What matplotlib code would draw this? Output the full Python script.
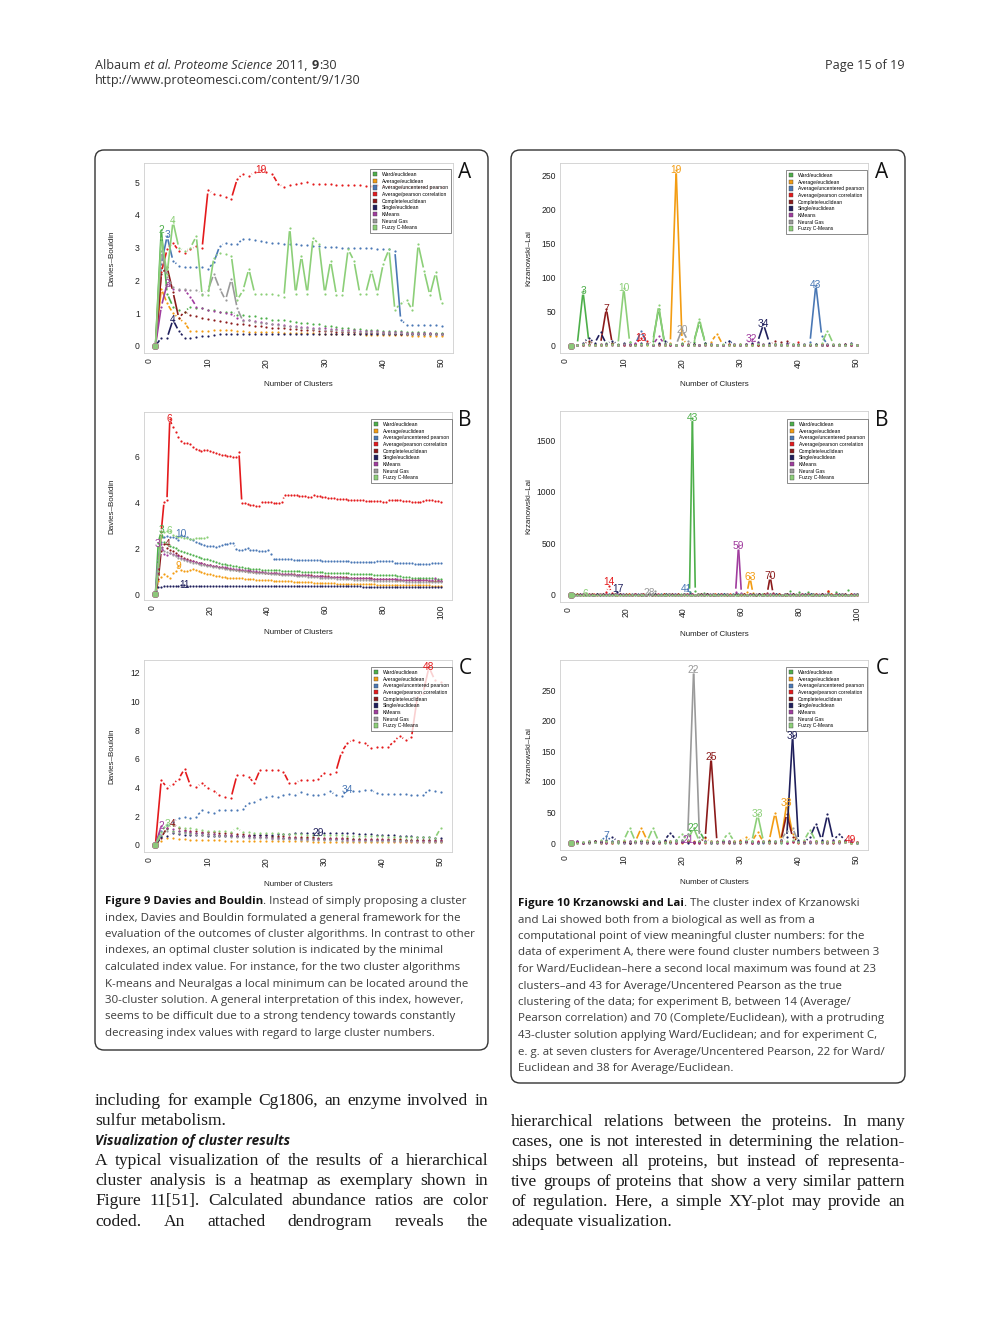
import numpy as np
import matplotlib
matplotlib.use('Agg')
import matplotlib.pyplot as plt
from matplotlib.patches import FancyBboxPatch, Patch, Rectangle

plt.rcParams['font.family'] = ['Liberation Sans', 'DejaVu Sans']

methods = ['Ward/euclidean', 'Average/euclidean', 'Average/uncentered pearson',
           'Average/pearson correlation', 'Complete/euclidean', 'Single/euclidean',
           'KMeans', 'Neural Gas', 'Fuzzy C-Means']
colors = ['#4DAF4A', '#F39C12', '#4A78B5', '#E41A1C', '#8B1A1A', '#1F1F5C',
          '#A03C9E', '#9A9A9A', '#8CCF78']

# ---- Figure 9A : Davies-Bouldin, experiment A (k = 1..50)
dbA_ward = [0, 3.55, 1.6, 1.2, 1.1, 1.05, 1.2, 1.15, 1.15, 1.1,
            1.1, 1.05, 1.05, 1.05, 0.95, 0.95, 0.9, 0.9, 0.85, 0.85,
            0.8, 0.8, 0.78, 0.75, 0.72, 0.7, 0.7, 0.68, 0.66, 0.62,
            0.6, 0.58, 0.56, 0.55, 0.53, 0.52, 0.5, 0.5, 0.48, 0.47,
            0.46, 0.45, 0.45, 0.44, 0.43, 0.42, 0.42, 0.41, 0.4, 0.4]
dbA_ave = [0, 1.75, 1.3, 1.0, 0.85, 0.7, 0.45, 0.45, 0.45, 0.45,
           0.5, 0.5, 0.5, 0.48, 0.45, 0.45, 0.44, 0.44, 0.43, 0.43,
           0.42, 0.42, 0.41, 0.41, 0.4, 0.4, 0.39, 0.39, 0.38, 0.38,
           0.37, 0.37, 0.36, 0.36, 0.35, 0.35, 0.34, 0.34, 0.33, 0.33,
           0.33, 0.32, 0.32, 0.32, 0.31, 0.31, 0.31, 0.3, 0.3, 0.3]
dbA_aup = [0, 2.5, 3.35, 2.6, 2.45, 2.42, 2.42, 2.42, 2.4, 2.35,
           2.55, 3.05, 3.15, 3.12, 3.1, 3.28, 3.25, 3.22, 3.2, 3.18,
           3.15, 3.15, 3.12, 3.12, 3.1, 3.08, 3.08, 3.05, 3.05, 3.03,
           3.02, 3.02, 3.0, 3.0, 3.0, 3.0, 2.98, 2.98, 2.97, 2.97,
           2.95, 2.9, 0.8, 0.65, 0.65, 0.64, 0.64, 0.63, 0.63, 0.62]
dbA_apc = [0, 2.25, 2.95, 3.15, 2.9, 2.85, 2.95, 3.05, 3.0, 4.75,
           4.65, 4.6, 4.55, 4.5, 5.1, 5.25, 5.2, 5.3, 5.37, 5.3,
           5.25, 4.95, 4.85, 4.9, 4.95, 4.97, 5.0, 4.95, 4.93, 4.93,
           4.95, 4.92, 4.9, 4.9, 4.9, 4.9, 4.88, 4.88, 4.9, 4.88,
           4.87, 4.87, 4.86, 4.86, 4.85, 4.85, 4.85, 4.85, 4.84, 4.84]
dbA_comp = [0, 2.2, 2.4, 1.65, 0.85, 1.05, 0.95, 0.9, 0.85, 0.82,
            0.8, 0.75, 0.72, 0.7, 0.68, 0.66, 0.64, 0.62, 0.6, 0.58,
            0.56, 0.55, 0.54, 0.53, 0.52, 0.5, 0.49, 0.48, 0.47, 0.46,
            0.45, 0.44, 0.43, 0.43, 0.42, 0.41, 0.41, 0.4, 0.4, 0.39,
            0.39, 0.38, 0.38, 0.37, 0.37, 0.36, 0.36, 0.36, 0.35, 0.35]
dbA_sing = [0, 0.25, 0.25, 0.8, 0.45, 0.25, 0.25, 0.28, 0.3, 0.3,
            0.33, 0.35, 0.35, 0.36, 0.38, 0.38, 0.38, 0.38, 0.38, 0.38,
            0.38, 0.38, 0.38, 0.38, 0.37, 0.37, 0.37, 0.37, 0.37, 0.37,
            0.37, 0.37, 0.36, 0.36, 0.36, 0.36, 0.36, 0.36, 0.36, 0.36,
            0.36, 0.36, 0.35, 0.35, 0.35, 0.35, 0.35, 0.35, 0.35, 0.35]
dbA_km = [0, 1.2, 1.9, 1.75, 1.72, 1.7, 1.5, 1.2, 1.15, 1.1,
          1.08, 1.05, 1.0, 0.98, 0.85, 0.8, 0.78, 0.75, 0.72, 0.7,
          0.68, 0.66, 0.64, 0.62, 0.6, 0.58, 0.57, 0.56, 0.55, 0.54,
          0.52, 0.51, 0.5, 0.49, 0.48, 0.47, 0.46, 0.45, 0.45, 0.44,
          0.43, 0.42, 0.42, 0.41, 0.4, 0.4, 0.39, 0.39, 0.38, 0.38]
dbA_ng = [0, 2.9, 2.1, 1.8, 1.75, 1.75, 1.7, 1.7, 1.6, 1.7,
          2.2, 1.75, 1.4, 2.05, 1.15, 0.75, 0.78, 0.72, 0.7, 0.7,
          0.68, 0.65, 0.62, 0.6, 0.58, 0.56, 0.55, 0.53, 0.52, 0.5,
          0.49, 0.48, 0.47, 0.46, 0.45, 0.44, 0.43, 0.42, 0.42, 0.41,
          0.4, 0.4, 0.39, 0.38, 0.38, 0.37, 0.37, 0.36, 0.36, 0.35]
dbA_fcm = [0, 3.3, 2.2, 3.8, 3.0, 2.9, 3.0, 3.35, 1.55, 1.55,
           2.7, 2.85, 2.8, 2.75, 1.4, 1.7, 2.35, 1.6, 1.6, 1.6,
           1.6, 1.55, 1.5, 3.6, 1.6, 2.75, 1.6, 3.3, 3.1, 1.6,
           2.6, 1.55, 1.55, 2.95, 2.6, 1.6, 1.6, 2.3, 1.6, 2.5,
           2.95, 1.1, 1.3, 1.4, 1.1, 3.1, 2.3, 1.55, 2.25, 1.3]
# (series index, cluster number, value) of the numbered optima
dbA_marks = [(0, 2, 3.55), (2, 3, 3.4), (8, 4, 3.8), (6, 3, 1.9), (5, 4, 0.8), (3, 19, 5.37)]

# ---- Figure 9B : Davies-Bouldin, experiment B (k = 1..100)
dbB_ward = [0, 2.25, 2.75, 2.3, 2.2, 2.12, 2.05, 2.0, 1.95, 1.9,
            1.85, 1.8, 1.75, 1.7, 1.66, 1.62, 1.58, 1.55, 1.52, 1.48,
            1.44, 1.4, 1.37, 1.34, 1.32, 1.3, 1.28, 1.25, 1.23, 1.2,
            1.18, 1.16, 1.14, 1.12, 1.11, 1.1, 1.09, 1.08, 1.07, 1.06,
            1.05, 1.05, 1.04, 1.04, 1.03, 1.03, 1.02, 1.02, 1.01, 1.0,
            1.0, 0.99, 0.99, 0.98, 0.98, 0.97, 0.97, 0.96, 0.96, 0.95,
            0.95, 0.94, 0.94, 0.93, 0.93, 0.92, 0.92, 0.91, 0.9, 0.9,
            0.89, 0.89, 0.88, 0.88, 0.87, 0.87, 0.86, 0.86, 0.86, 0.85,
            0.85, 0.84, 0.84, 0.83, 0.8, 0.78, 0.76, 0.75, 0.74, 0.73,
            0.72, 0.72, 0.71, 0.7, 0.7, 0.69, 0.69, 0.68, 0.68, 0.67]
dbB_ave = [0, 0.6, 0.75, 0.9, 0.8, 0.7, 0.92, 1.0, 1.25, 1.05,
           1.0, 1.02, 1.06, 1.1, 1.05, 1.0, 0.97, 0.94, 0.9, 0.87,
           0.84, 0.81, 0.79, 0.77, 0.75, 0.73, 0.7, 0.72, 0.72, 0.7,
           0.69, 0.68, 0.67, 0.66, 0.65, 0.64, 0.64, 0.63, 0.62, 0.62,
           0.61, 0.6, 0.59, 0.58, 0.58, 0.57, 0.56, 0.56, 0.55, 0.55,
           0.54, 0.53, 0.53, 0.52, 0.52, 0.51, 0.5, 0.5, 0.5, 0.49,
           0.49, 0.48, 0.48, 0.47, 0.47, 0.46, 0.46, 0.46, 0.45, 0.45,
           0.45, 0.44, 0.44, 0.44, 0.43, 0.43, 0.43, 0.42, 0.42, 0.42,
           0.42, 0.41, 0.41, 0.41, 0.41, 0.4, 0.4, 0.4, 0.4, 0.4,
           0.4, 0.39, 0.39, 0.39, 0.39, 0.39, 0.38, 0.38, 0.38, 0.38]
dbB_aup = [0, 1.5, 2.3, 2.5, 2.55, 2.5, 2.5, 2.45, 2.35, 2.6,
           2.55, 2.5, 2.4, 2.35, 2.3, 2.25, 2.2, 2.15, 2.12, 2.1,
           2.1, 2.08, 2.1, 2.15, 2.18, 2.2, 2.22, 2.25, 1.97, 1.95,
           1.95, 1.97, 2.0, 1.95, 1.93, 1.92, 1.9, 1.9, 1.9, 1.92,
           1.75, 1.55, 1.55, 1.54, 1.53, 1.52, 1.52, 1.52, 1.5, 1.5,
           1.5, 1.5, 1.5, 1.5, 1.5, 1.5, 1.48, 1.48, 1.47, 1.47,
           1.46, 1.46, 1.45, 1.45, 1.45, 1.45, 1.44, 1.44, 1.43, 1.42,
           1.42, 1.42, 1.42, 1.41, 1.41, 1.41, 1.43, 1.44, 1.44, 1.44,
           1.44, 1.44, 1.44, 1.36, 1.35, 1.35, 1.35, 1.35, 1.35, 1.35,
           1.34, 1.34, 1.34, 1.34, 1.34, 1.34, 1.35, 1.36, 1.35, 1.35]
dbB_apc = [0, 0.9, 2.7, 4.05, 4.1, 7.65, 7.3, 7.1, 6.85, 6.7,
           6.6, 6.6, 6.55, 6.45, 6.35, 6.3, 6.25, 6.3, 6.3, 6.25,
           6.2, 6.15, 6.12, 6.1, 6.08, 6.05, 6.03, 6.0, 5.98, 6.2,
           4.0, 3.97, 3.95, 3.92, 3.9, 3.87, 3.85, 4.02, 4.05, 4.03,
           4.02, 4.0, 4.0, 3.98, 4.05, 4.35, 4.35, 4.35, 4.33, 4.32,
           4.3, 4.28, 4.27, 4.25, 4.25, 4.35, 4.3, 4.28, 4.25, 4.23,
           4.22, 4.2, 4.2, 4.18, 4.17, 4.15, 4.15, 4.13, 4.12, 4.1,
           4.1, 4.1, 4.1, 4.08, 4.08, 4.08, 4.08, 4.07, 4.06, 4.05,
           4.05, 4.1, 4.12, 4.12, 4.1, 4.1, 4.08, 4.08, 4.07, 4.05,
           4.05, 4.05, 4.05, 4.08, 4.1, 4.1, 4.1, 4.08, 4.07, 4.05]
dbB_comp = [0, 0.65, 1.9, 2.2, 2.0, 1.95, 1.88, 1.8, 1.72, 1.65,
            1.6, 1.55, 1.5, 1.46, 1.42, 1.38, 1.35, 1.32, 1.3, 1.27,
            1.25, 1.22, 1.2, 1.18, 1.16, 1.14, 1.12, 1.1, 1.08, 1.06,
            1.05, 1.03, 1.02, 1.0, 0.99, 0.98, 0.97, 0.96, 0.95, 0.94,
            0.93, 0.92, 0.91, 0.9, 0.9, 0.89, 0.88, 0.87, 0.87, 0.86,
            0.85, 0.84, 0.83, 0.82, 0.82, 0.81, 0.8, 0.8, 0.79, 0.78,
            0.78, 0.77, 0.76, 0.76, 0.75, 0.74, 0.74, 0.73, 0.72, 0.72,
            0.71, 0.71, 0.7, 0.7, 0.69, 0.69, 0.68, 0.68, 0.67, 0.67,
            0.66, 0.66, 0.65, 0.65, 0.64, 0.64, 0.63, 0.63, 0.63, 0.62,
            0.62, 0.62, 0.61, 0.61, 0.61, 0.6, 0.6, 0.6, 0.6, 0.59]
dbB_sing = [0, 0.3, 0.32, 0.35, 0.36, 0.37, 0.38, 0.38, 0.38, 0.39,
            0.4, 0.38, 0.38, 0.38, 0.37, 0.37, 0.37, 0.37, 0.37, 0.36,
            0.36, 0.36, 0.36, 0.36, 0.36, 0.36, 0.36, 0.36, 0.36, 0.36,
            0.36, 0.36, 0.35, 0.35, 0.35, 0.35, 0.35, 0.35, 0.35, 0.35,
            0.35, 0.35, 0.35, 0.35, 0.35, 0.35, 0.35, 0.35, 0.35, 0.35,
            0.35, 0.35, 0.34, 0.34, 0.34, 0.34, 0.34, 0.34, 0.34, 0.34,
            0.34, 0.34, 0.34, 0.34, 0.34, 0.34, 0.34, 0.34, 0.34, 0.34,
            0.34, 0.34, 0.33, 0.33, 0.33, 0.33, 0.33, 0.33, 0.33, 0.33,
            0.33, 0.33, 0.33, 0.33, 0.33, 0.33, 0.33, 0.33, 0.33, 0.33,
            0.33, 0.33, 0.33, 0.33, 0.33, 0.33, 0.33, 0.33, 0.33, 0.33]
dbB_km = [0, 1.2, 2.2, 1.75, 1.7, 1.8, 1.75, 1.7, 1.65, 1.6,
          1.55, 1.5, 1.47, 1.44, 1.41, 1.38, 1.35, 1.32, 1.3, 1.27,
          1.25, 1.23, 1.21, 1.19, 1.17, 1.15, 1.13, 1.12, 1.1, 1.09,
          1.07, 1.06, 1.04, 1.03, 1.02, 1.0, 0.99, 0.98, 0.97, 0.95,
          0.94, 0.93, 0.92, 0.91, 0.9, 0.89, 0.88, 0.87, 0.86, 0.85,
          0.84, 0.83, 0.82, 0.82, 0.81, 0.8, 0.79, 0.78, 0.78, 0.77,
          0.76, 0.76, 0.75, 0.74, 0.74, 0.73, 0.73, 0.72, 0.72, 0.71,
          0.71, 0.7, 0.7, 0.69, 0.69, 0.68, 0.68, 0.68, 0.67, 0.67,
          0.66, 0.66, 0.66, 0.65, 0.65, 0.65, 0.64, 0.64, 0.64, 0.63,
          0.63, 0.63, 0.62, 0.62, 0.62, 0.62, 0.61, 0.7, 0.61, 0.6]
dbB_ng = [0, 1.5, 2.0, 1.9, 1.85, 1.8, 1.72, 1.65, 1.6, 1.55,
          1.5, 1.46, 1.42, 1.38, 1.35, 1.32, 1.3, 1.27, 1.25, 1.22,
          1.2, 1.18, 1.16, 1.14, 1.12, 1.1, 1.08, 1.06, 1.05, 1.03,
          1.02, 1.0, 0.99, 0.98, 0.96, 0.95, 0.94, 0.93, 0.92, 0.91,
          0.9, 0.89, 0.88, 0.87, 0.86, 0.85, 0.84, 0.83, 0.82, 0.81,
          0.8, 0.79, 0.78, 0.77, 0.76, 0.75, 0.74, 0.73, 0.72, 0.71,
          0.7, 0.7, 0.69, 0.68, 0.67, 0.67, 0.66, 0.65, 0.65, 0.64,
          0.63, 0.63, 0.62, 0.62, 0.61, 0.61, 0.6, 0.6, 0.59, 0.59,
          0.58, 0.58, 0.57, 0.57, 0.57, 0.56, 0.56, 0.55, 0.55, 0.55,
          0.54, 0.54, 0.54, 0.53, 0.53, 0.53, 0.52, 0.52, 0.52, 0.52]
dbB_fcm = [0, 1.0, 2.7, 2.72, 2.75, 2.75, 2.6, 2.55, 2.5, 2.48,
           2.46, 2.44, 2.42, 2.42, 2.44, 2.45, 2.46, 2.47, 2.5]
dbB_marks = [(3, 6, 7.65), (2, 10, 2.62), (0, 3, 2.8), (8, 6, 2.78), (6, 3, 2.2),
             (4, 4, 2.2), (1, 9, 1.25), (5, 11, 0.4)]

# ---- Figure 9C : Davies-Bouldin, experiment C (k = 1..50)
dbC_ward = [0, 0.6, 1.1, 1.0, 0.95, 0.9, 0.85, 0.82, 0.8, 0.78,
            0.75, 0.72, 0.7, 0.68, 0.65, 0.62, 0.6, 0.58, 0.56, 0.55,
            0.53, 0.52, 0.5, 0.5, 0.48, 0.47, 0.46, 0.45, 0.44, 0.43,
            0.42, 0.41, 0.4, 0.4, 0.39, 0.38, 0.37, 0.36, 0.36, 0.35,
            0.34, 0.34, 0.33, 0.33, 0.32, 0.32, 0.31, 0.31, 0.3, 0.3]
dbC_ave = [0, 0.3, 0.5, 0.45, 0.4, 0.38, 0.36, 0.35, 0.34, 0.33,
           0.32, 0.31, 0.3, 0.3, 0.29, 0.28, 0.28, 0.27, 0.27, 0.26,
           0.26, 0.25, 0.25, 0.25, 0.24, 0.24, 0.24, 0.23, 0.23, 0.23,
           0.22, 0.22, 0.22, 0.22, 0.21, 0.21, 0.21, 0.21, 0.21, 0.2,
           0.2, 0.2, 0.2, 0.2, 0.2, 0.2, 0.19, 0.19, 0.19, 0.19]
dbC_aup = [0, 1.0, 1.4, 1.6, 1.85, 1.95, 1.9, 1.95, 2.4, 2.3,
           2.25, 2.45, 2.45, 2.45, 2.4, 2.5, 2.9, 3.0, 3.2, 3.35,
           3.4, 3.35, 3.5, 3.55, 3.5, 3.7, 3.55, 3.5, 3.5, 3.55,
           3.75, 3.45, 3.4, 3.85, 3.75, 3.75, 3.85, 3.85, 3.6, 3.55,
           3.55, 3.55, 3.55, 3.55, 3.5, 3.45, 3.45, 3.85, 3.75, 3.7]
dbC_apc = [0, 4.5, 4.0, 4.25, 4.6, 5.3, 4.15, 4.05, 4.3, 3.95,
           3.75, 3.5, 3.35, 3.3, 4.85, 4.85, 4.75, 4.3, 5.25, 5.2,
           5.2, 5.2, 5.1, 4.3, 4.3, 4.55, 4.5, 4.55, 4.6, 5.0,
           4.95, 5.1, 6.5, 7.1, 7.35, 7.2, 7.1, 6.75, 6.8, 6.85,
           6.8, 7.25, 7.6, 7.3, 7.5, 10.3, 10.6, 12.4, 11.5, 11.35]
dbC_comp = [0, 0.5, 1.2, 1.45, 1.2, 1.05, 1.0, 0.95, 0.92, 0.9,
            0.88, 0.85, 0.82, 0.8, 0.78, 0.75, 0.72, 0.7, 0.68, 0.66,
            0.64, 0.62, 0.6, 0.58, 0.56, 0.55, 0.53, 0.52, 0.5, 0.5,
            0.48, 0.47, 0.46, 0.45, 0.44, 0.43, 0.42, 0.41, 0.4, 0.4,
            0.39, 0.38, 0.38, 0.37, 0.36, 0.36, 0.35, 0.35, 0.34, 0.34]
dbC_sing = [0, 0.55, 0.65, 0.85, 0.75, 0.7, 0.7, 0.7, 0.7, 0.65,
            0.65, 0.65, 0.65, 0.65, 0.6, 0.6, 0.65, 0.7, 0.7, 0.7,
            0.72, 0.75, 0.75, 0.75, 0.8, 0.85, 0.85, 0.85, 0.8, 0.85,
            0.85, 0.85, 0.8, 0.8, 0.8, 0.78, 0.78, 0.75, 0.72, 0.7,
            0.7, 0.68, 0.65, 0.62, 0.6, 0.55, 0.55, 0.52, 0.5, 0.5]
dbC_km = [0, 1.3, 1.2, 1.1, 1.0, 0.95, 0.9, 0.85, 0.8, 0.78,
          0.75, 0.72, 0.7, 0.68, 0.65, 0.62, 0.6, 0.58, 0.55, 0.52,
          0.5, 0.5, 0.48, 0.47, 0.45, 0.44, 0.43, 0.42, 0.41, 0.4,
          0.4, 0.39, 0.38, 0.37, 0.36, 0.35, 0.34, 0.33, 0.32, 0.32,
          0.31, 0.3, 0.3, 0.29, 0.28, 0.28, 0.27, 0.27, 0.26, 0.26]
dbC_ng = [0, 0.7, 1.0, 0.9, 0.85, 0.8, 0.75, 0.72, 0.7, 0.68,
          0.65, 0.62, 0.6, 0.58, 0.55, 0.53, 0.5, 0.48, 0.46, 0.45,
          0.44, 0.42, 0.41, 0.4, 0.38, 0.37, 0.36, 0.35, 0.34, 0.33,
          0.32, 0.31, 0.3, 0.3, 0.29, 0.28, 0.28, 0.27, 0.27, 0.26,
          0.26, 0.25, 0.25, 0.24, 0.24, 0.23, 0.23, 0.23, 0.22, 0.22]
dbC_fcm = [0, 0.9, 1.45, 1.35, 1.25, 1.2, 1.15, 1.1, 1.05, 1.0,
           1.0, 0.95, 0.95, 0.92, 1.15, 0.9, 0.88, 0.85, 0.85, 0.82,
           0.8, 0.8, 0.78, 0.78, 0.75, 0.75, 0.72, 0.72, 0.7, 0.7,
           0.68, 0.68, 0.66, 0.65, 0.65, 0.63, 0.62, 0.62, 0.6, 0.6,
           0.58, 0.58, 0.56, 0.55, 0.55, 0.54, 0.53, 0.52, 0.45, 1.15]
dbC_marks = [(3, 48, 12.4), (2, 34, 3.85), (5, 29, 0.8), (6, 2, 1.3), (8, 3, 1.45), (4, 4, 1.45)]

# ---- Figure 10A : Krzanowski-Lai, experiment A (k = 1..50)
klA_ward = [0, 2, 80, 6, 3, 2, 4, 5, 3, 2, 6, 3, 2, 4, 8, 55, 5, 3, 2, 4,
            3, 6, 35, 5, 3, 2, 2, 3, 2, 2, 3, 2, 2, 3, 2, 2, 3, 2, 2, 3,
            2, 2, 3, 2, 2, 2, 3, 2, 2, 2]
klA_ave = [0, 1, 2, 1, 2, 1, 2, 1, 2, 1, 2, 1, 2, 1, 2, 1, 2, 5, 258, 10,
           3, 2, 1, 2, 6, 18, 2, 1, 2, 1, 2, 1, 2, 1, 2, 1, 1, 2, 1, 1,
           2, 1, 1, 2, 1, 1, 2, 1, 1, 1]
klA_aup = [0, 1, 2, 3, 2, 1, 2, 3, 2, 3, 2, 3, 22, 3, 2, 3, 2, 1, 2, 3,
           2, 1, 2, 3, 2, 1, 2, 8, 2, 1, 2, 3, 2, 1, 2, 3, 2, 1, 2, 3,
           2, 6, 90, 15, 2, 1, 2, 1, 2, 1]
klA_apc = [0, 1, 2, 3, 2, 1, 2, 3, 2, 1, 2, 3, 12, 7, 2, 3, 2, 1, 2, 3,
           2, 1, 2, 3, 2, 1, 2, 3, 2, 1, 2, 3, 2, 1, 2, 3, 2, 1, 2, 6,
           2, 1, 2, 3, 2, 1, 2, 3, 2, 1]
klA_comp = [0, 1, 2, 8, 2, 3, 55, 4, 2, 3, 2, 1, 2, 3, 2, 1, 2, 1, 2, 1,
            2, 3, 2, 1, 2, 1, 2, 1, 2, 3, 2, 1, 2, 1, 2, 7, 6, 7, 2, 1,
            2, 1, 2, 1, 2, 1, 2, 1, 2, 1]
klA_sing = [0, 2, 5, 12, 4, 20, 3, 8, 2, 5, 3, 2, 4, 3, 2, 5, 8, 3, 2, 3,
            2, 3, 2, 4, 3, 2, 2, 8, 3, 2, 3, 4, 6, 32, 5, 3, 2, 4, 3, 2,
            3, 2, 3, 2, 3, 2, 2, 3, 5, 1]
klA_km = [0, 2, 3, 2, 1, 2, 3, 2, 1, 2, 3, 4, 2, 3, 2, 14, 3, 2, 1, 2,
          3, 2, 1, 2, 3, 2, 1, 2, 3, 2, 3, 10, 4, 3, 2, 1, 2, 3, 2, 1,
          2, 3, 2, 1, 2, 3, 2, 1, 2, 1]
klA_ng = [0, 1, 2, 1, 2, 3, 2, 1, 2, 3, 2, 1, 2, 3, 2, 1, 2, 3, 2, 24,
          8, 2, 1, 2, 3, 2, 1, 2, 3, 2, 1, 2, 3, 2, 1, 2, 3, 2, 1, 2,
          3, 2, 1, 2, 3, 2, 1, 2, 3, 1]
klA_fcm = [0, 1, 3, 2, 1, 2, 2, 3, 2, 85, 6, 2, 3, 2, 3, 60, 2, 3, 2, 3,
           2, 2, 40, 3, 2, 2, 3, 2, 2, 3, 2, 2, 3, 2, 2, 3, 2, 2, 3, 2,
           2, 3, 2, 4, 22, 3, 2, 2, 3, 1]
klA_marks = [(0, 3, 80), (8, 10, 85), (1, 19, 258), (4, 7, 55), (7, 20, 24),
             (3, 13, 11), (6, 32, 10), (5, 34, 33), (2, 43, 90)]

# ---- Figure 10B : Krzanowski-Lai, experiment B (k = 1..100)
klB_ward = [0, 5, 8, 4, 6, 3, 5, 7, 4, 6, 5, 8, 4, 6, 3, 5, 7, 4, 6, 5,
            8, 4, 6, 3, 5, 7, 4, 6, 5, 8, 4, 6, 3, 5, 7, 4, 6, 5, 8, 4,
            6, 30, 1713, 40, 5, 7, 20, 6, 5, 8, 4, 6, 3, 5, 7, 4, 6, 5, 8, 4,
            6, 3, 5, 7, 4, 6, 5, 8, 4, 6, 3, 5, 7, 4, 6, 5, 40, 4, 6, 25,
            5, 7, 30, 6, 5, 8, 4, 6, 3, 30, 7, 4, 25, 5, 8, 4, 45, 3, 5, 7]
klB_ave = [0, 3, 5, 2, 4, 7, 3, 6, 2, 4, 5, 3, 6, 2, 4, 8, 3, 5, 1, 4,
           6, 2, 5, 3, 4, 7, 2, 5, 3, 4, 6, 3, 5, 2, 5, 6, 3, 4, 2, 5,
           7, 3, 4, 2, 6, 5, 3, 5, 2, 4, 6, 2, 5, 3, 4, 6, 2, 5, 3, 4,
           5, 30, 170, 20, 4, 6, 3, 5, 2, 4, 6, 3, 5, 2, 4, 7, 3, 5, 2, 4,
           5, 3, 6, 2, 4, 6, 3, 5, 2, 35, 6, 3, 5, 2, 4, 6, 3, 5, 2, 4]
klB_aup = [0, 2, 4, 3, 5, 2, 4, 6, 3, 5, 2, 4, 3, 5, 2, 4, 6, 3, 5, 2,
           4, 3, 5, 2, 4, 6, 3, 5, 2, 4, 3, 5, 2, 4, 6, 3, 5, 2, 4, 10,
           60, 15, 4, 3, 5, 2, 4, 6, 3, 5, 2, 4, 3, 5, 2, 4, 6, 3, 5, 2,
           4, 3, 5, 2, 4, 6, 3, 5, 2, 4, 3, 5, 2, 4, 6, 3, 5, 2, 4, 3,
           5, 2, 4, 6, 3, 5, 2, 4, 3, 5, 2, 4, 6, 3, 5, 2, 4, 3, 5, 2]
klB_apc = [0, 4, 2, 6, 3, 5, 8, 4, 6, 3, 5, 10, 25, 85, 20, 5, 3, 6, 4, 2,
           5, 3, 6, 4, 2, 5, 3, 6, 4, 2, 5, 3, 6, 4, 2, 5, 3, 6, 4, 2,
           5, 3, 6, 4, 2, 5, 3, 6, 4, 2, 5, 3, 6, 4, 2, 5, 3, 6, 4, 2,
           5, 3, 6, 4, 2, 5, 3, 6, 4, 2, 5, 3, 6, 4, 2, 5, 3, 6, 4, 2,
           5, 3, 6, 4, 2, 5, 3, 6, 4, 35, 5, 3, 6, 4, 2, 5, 3, 6, 4, 2]
klB_comp = [0, 3, 5, 2, 6, 4, 3, 5, 2, 6, 4, 3, 5, 2, 6, 4, 3, 5, 2, 6,
            4, 3, 5, 2, 6, 4, 3, 5, 2, 6, 4, 3, 5, 2, 6, 4, 3, 5, 2, 6,
            4, 3, 5, 2, 6, 4, 3, 5, 2, 6, 4, 3, 5, 2, 6, 4, 3, 5, 2, 6,
            5, 3, 6, 4, 2, 5, 3, 6, 20, 180, 15, 3, 5, 2, 6, 4, 3, 5, 2, 6,
            4, 3, 5, 2, 6, 4, 3, 5, 2, 6, 4, 3, 5, 2, 6, 4, 3, 5, 2, 6]
klB_sing = [0, 4, 2, 5, 3, 6, 2, 4, 3, 5, 3, 5, 2, 4, 6, 8, 30, 5, 3, 4,
            2, 5, 3, 6, 2, 4, 3, 5, 2, 6, 3, 4, 2, 5, 3, 6, 2, 4, 3, 5,
            2, 6, 3, 4, 2, 5, 3, 6, 2, 4, 3, 5, 2, 6, 3, 4, 2, 5, 3, 6,
            2, 4, 3, 5, 2, 6, 3, 4, 2, 5, 3, 6, 2, 4, 3, 5, 2, 6, 3, 4,
            2, 5, 3, 6, 2, 4, 3, 5, 2, 6, 3, 4, 2, 5, 3, 6, 2, 4, 3, 5]
klB_km = [0, 2, 4, 3, 6, 2, 5, 3, 4, 2, 6, 3, 5, 2, 4, 3, 6, 2, 5, 3,
          4, 2, 6, 3, 5, 2, 4, 3, 6, 2, 5, 3, 4, 2, 6, 3, 5, 2, 4, 3,
          6, 2, 5, 3, 4, 2, 6, 3, 5, 2, 4, 2, 5, 3, 6, 4, 2, 30, 470, 20,
          4, 2, 6, 3, 5, 2, 4, 3, 6, 2, 5, 3, 4, 2, 6, 3, 5, 2, 4, 3,
          6, 2, 5, 3, 4, 2, 6, 3, 5, 2, 4, 3, 6, 2, 5, 3, 4, 2, 6, 3]
klB_ng = [0, 3, 2, 4, 3, 5, 2, 3, 4, 2, 5, 3, 2, 4, 3, 5, 2, 3, 4, 2,
          3, 5, 2, 4, 6, 3, 5, 15, 8, 40, 3, 2, 4, 3, 5, 2, 3, 4, 2, 5,
          3, 2, 4, 3, 5, 2, 3, 4, 2, 5, 3, 2, 4, 3, 5, 2, 3, 4, 2, 5,
          3, 2, 4, 3, 5, 2, 3, 4, 2, 5, 3, 2, 4, 3, 5, 2, 3, 4, 2, 5,
          3, 2, 4, 3, 5, 2, 3, 4, 2, 5, 3, 2, 4, 3, 5, 2, 3, 4, 2, 5]
klB_fcm = [0, 2, 1, 3, 2, 5, 2, 1, 3, 2, 1, 3, 2, 1, 3, 2, 1, 3, 2, 1,
           3, 2, 1, 3, 2, 1, 3, 2, 1, 3, 2, 1, 3, 2, 1, 3, 2, 1, 3, 2,
           1, 3, 2, 1, 3, 2, 1, 3, 2, 1, 3, 2, 1, 3, 2, 1, 3, 2, 1, 3,
           2, 1, 3, 2, 1, 3, 2, 1, 3, 2, 1, 3, 2, 1, 3, 2, 1, 3, 2, 1,
           3, 2, 1, 3, 2, 1, 3, 2, 1, 3, 2, 1, 3, 2, 1, 3, 2, 1, 3, 2]
klB_marks = [(0, 43, 1713), (6, 59, 470), (1, 63, 170), (4, 70, 180), (3, 14, 130),
             (5, 17, 55), (2, 41, 60), (7, 28, 15), (8, 6, 5)]

# ---- Figure 10C : Krzanowski-Lai, experiment C (k = 1..50)
klC_ward = [0, 2, 1, 3, 2, 1, 2, 3, 1, 2, 3, 2, 1, 2, 3, 2, 1, 2, 3, 5,
            15, 25, 20, 3, 1, 2, 3, 2, 1, 2, 3, 2, 1, 2, 3, 2, 1, 2, 3, 2,
            1, 2, 3, 2, 1, 2, 3, 2, 1, 0]
klC_ave = [0, 1, 2, 1, 2, 3, 2, 1, 2, 3, 2, 3, 25, 5, 2, 1, 2, 3, 2, 1,
           2, 3, 2, 8, 2, 1, 2, 3, 2, 5, 10, 3, 18, 2, 5, 50, 3, 65, 15, 2,
           1, 2, 3, 2, 1, 2, 3, 2, 1, 2]
klC_aup = [0, 1, 2, 1, 2, 3, 12, 3, 2, 1, 2, 3, 2, 1, 2, 3, 2, 1, 2, 3,
           2, 1, 2, 3, 2, 1, 2, 3, 2, 1, 2, 3, 2, 1, 2, 3, 2, 1, 2, 3,
           2, 1, 2, 3, 2, 1, 2, 3, 2, 1]
klC_apc = [0, 2, 1, 2, 3, 1, 2, 1, 3, 2, 1, 2, 3, 1, 2, 1, 3, 2, 1, 2,
           3, 1, 2, 1, 3, 2, 1, 2, 3, 1, 2, 1, 3, 2, 1, 2, 3, 1, 2, 1,
           3, 2, 1, 2, 3, 1, 2, 3, 5, 2]
klC_comp = [0, 2, 1, 2, 3, 2, 1, 2, 3, 2, 1, 2, 3, 2, 1, 2, 3, 2, 1, 2,
            3, 2, 1, 10, 140, 3, 2, 1, 2, 3, 2, 1, 2, 3, 2, 1, 5, 48, 10, 2,
            1, 2, 3, 2, 1, 2, 3, 2, 1, 2]
klC_sing = [0, 4, 1, 2, 3, 2, 5, 10, 3, 2, 1, 2, 3, 2, 1, 2, 5, 17, 5, 2,
            1, 2, 3, 2, 1, 2, 3, 2, 1, 2, 3, 2, 1, 2, 3, 2, 5, 10, 175, 5,
            2, 10, 32, 5, 47, 5, 15, 5, 2, 1]
klC_km = [0, 3, 1, 4, 2, 3, 1, 2, 3, 1, 4, 2, 1, 3, 2, 1, 2, 3, 1, 2,
          5, 2, 1, 3, 2, 1, 2, 3, 1, 2, 3, 1, 2, 3, 2, 3, 2, 1, 3, 2,
          1, 3, 2, 1, 2, 3, 1, 2, 3, 1]
klC_ng = [0, 1, 2, 1, 2, 1, 2, 1, 2, 1, 2, 1, 2, 1, 2, 1, 2, 1, 2, 5,
          15, 282, 10, 2, 1, 2, 1, 2, 1, 2, 1, 2, 1, 2, 1, 2, 5, 20, 25, 2,
          1, 2, 1, 2, 1, 2, 1, 2, 1, 2]
klC_fcm = [0, 1, 2, 3, 2, 5, 3, 2, 3, 5, 25, 3, 5, 3, 25, 3, 2, 3, 5, 15,
           5, 25, 3, 2, 3, 2, 5, 17, 3, 2, 5, 3, 47, 3, 2, 3, 2, 3, 5, 2,
           5, 22, 3, 2, 3, 2, 3, 2, 1, 0]
klC_marks = [(7, 22, 282), (4, 25, 140), (5, 39, 175), (1, 38, 65), (8, 33, 47),
             (0, 22, 25), (2, 7, 12), (6, 21, 5), (3, 49, 5)]

fig = plt.figure(figsize=(10, 13.33), dpi=100)
bg = fig.add_axes([0, 0, 1, 1])
bg.set_xlim(0, 1000)
bg.set_ylim(1333, 0)
bg.axis('off')
renderer = fig.canvas.get_renderer()


def rect(x0, y0, x1, y1):
    return [x0 / 1000, 1 - y1 / 1333, (x1 - x0) / 1000, (y1 - y0) / 1333]


def draw_series(ax, vals, color, gap=3.2):
    # R type="b": points everywhere, line pieces only where the step is long
    x = np.arange(1, len(vals) + 1)
    y = np.array(vals, dtype=float)
    ax.plot(x, y, ls='none', marker='o', ms=1.6, mew=0, color=color)
    ax.plot(x[:1], y[:1], ls='none', marker='s', ms=3, mfc=color, mec=color, alpha=0.8)
    pts = ax.transData.transform(np.column_stack([x, y]))
    inv = ax.transData.inverted()
    for p0, p1 in zip(pts[:-1], pts[1:]):
        d = np.hypot(*(p1 - p0))
        if d > 2 * gap:
            u = (p1 - p0) / d * gap
            (xa, ya), (xb, yb) = inv.transform([p0 + u, p1 - u])
            ax.plot([xa, xb], [ya, yb], color=color, lw=1.2, solid_capstyle='butt')


def panel(box, series, marks, xmax, xstep, ylim, yticks, ylab, ylab_x,
          letter, letter_xy, leg_xy):
    ax = fig.add_axes(rect(*box))
    pad = (xmax - 1) * 0.04
    ax.set_xlim(1 - pad, xmax + pad)
    ax.set_ylim(*ylim)
    ax.set_xticks(np.arange(0, xmax + 1, xstep))
    ax.set_yticks(yticks)
    ax.tick_params(length=0, labelsize=6.2, labelcolor='#222222')
    ax.tick_params(axis='x', labelrotation=90, pad=3.5)
    ax.tick_params(axis='y', pad=3)
    for s in ax.spines.values():
        s.set_color('#cfcfcf')
        s.set_linewidth(0.6)
    for vals, col in zip(series, colors):
        draw_series(ax, vals, col)
    # number the optima; labels closer than ~5 px at the same height are pushed apart
    placed = []
    for i, k, v in marks:
        px = ax.transData.transform((k, v))
        t = ax.annotate(str(k), (k, v), xytext=(0, 0), textcoords='offset points',
                        color=colors[i], fontsize=7.4, ha='center', va='center', zorder=8)
        for q, other in placed:
            if abs(q[1] - px[1]) < 1 and abs(q[0] - px[0]) < 5:
                other.set_ha('right')
                other.xyann = (-0.3, 0)
                t.set_ha('left')
                t.xyann = (0.8, 0)
        placed.append((px, t))
    ax.set_xlabel('Number of Clusters', fontsize=5.8, color='#222222')
    ax.xaxis.set_label_coords(0.5, -32 / (box[3] - box[1]))
    ax.xaxis.label.set_va('center')
    ax.set_ylabel(ylab, fontsize=5.8, color='#222222')
    ax.yaxis.set_label_coords((ylab_x - box[0]) / (box[2] - box[0]), 0.5)
    ax.yaxis.label.set_va('center')
    handles = [Patch(facecolor=c, edgecolor='#444444', linewidth=0.3) for c in colors]
    leg = ax.legend(handles, methods, loc='upper right',
                    bbox_to_anchor=(leg_xy[0] / 1000, 1 - leg_xy[1] / 1333),
                    bbox_transform=fig.transFigure, fontsize=3.6, frameon=True,
                    fancybox=False, edgecolor='#555555', handlelength=0.9,
                    handleheight=0.9, handletextpad=0.9, labelspacing=0.33,
                    borderpad=0.6, borderaxespad=0)
    leg.get_frame().set_linewidth(0.6)
    leg.set_zorder(5)
    bg.text(letter_xy[0], letter_xy[1], letter, fontsize=15, family='Open Sans',
            ha='center', va='center', color='#111111')
    return ax


# figure frames
for x0, y0, x1, y1 in [(95, 150, 488, 1050), (511, 150, 905, 1083)]:
    bg.add_patch(FancyBboxPatch((x0, y0), x1 - x0, y1 - y0,
                                boxstyle='round,pad=0,rounding_size=9',
                                fc='white', ec='#333333', lw=1.0))

panel((144, 163, 453, 353),
      [dbA_ward, dbA_ave, dbA_aup, dbA_apc, dbA_comp, dbA_sing, dbA_km, dbA_ng, dbA_fcm],
      dbA_marks, 50, 10, (-0.215, 5.585), range(0, 6), 'Davies–Bouldin', 112,
      'A', (465, 172), (451, 169))
panel((144, 412, 452, 600),
      [dbB_ward, dbB_ave, dbB_aup, dbB_apc, dbB_comp, dbB_sing, dbB_km, dbB_ng, dbB_fcm],
      dbB_marks, 100, 20, (-0.25, 7.96), [0, 2, 4, 6], 'Davies–Bouldin', 112,
      'B', (465, 420), (452, 419))
panel((144, 660, 452, 852),
      [dbC_ward, dbC_ave, dbC_aup, dbC_apc, dbC_comp, dbC_sing, dbC_km, dbC_ng, dbC_fcm],
      dbC_marks, 50, 10, (-0.5, 12.9), range(0, 13, 2), 'Davies–Bouldin', 112,
      'C', (465, 668), (452, 667))
panel((560, 163, 868, 353),
      [klA_ward, klA_ave, klA_aup, klA_apc, klA_comp, klA_sing, klA_km, klA_ng, klA_fcm],
      klA_marks, 50, 10, (-10.3, 268.6), range(0, 251, 50), 'Krzanowski–Lai', 529,
      'A', (882, 172), (867, 170))
panel((560, 411, 868, 602),
      [klB_ward, klB_ave, klB_aup, klB_apc, klB_comp, klB_sing, klB_km, klB_ng, klB_fcm],
      klB_marks, 100, 20, (-68, 1781), [0, 500, 1000, 1500], 'Krzanowski–Lai', 529,
      'B', (882, 420), (868, 419))
panel((560, 660, 868, 850),
      [klC_ward, klC_ave, klC_aup, klC_apc, klC_comp, klC_sing, klC_km, klC_ng, klC_fcm],
      klC_marks, 50, 10, (-11, 299), range(0, 251, 50), 'Krzanowski–Lai', 529,
      'C', (882, 668), (867, 667))

# the caption area cuts the lowest axis titles
for x0, x1 in [(97, 486), (513, 903)]:
    fig.patches.append(Rectangle((x0 / 1000, 1 - 890 / 1333), (x1 - x0) / 1000, 4.5 / 1333,
                                 transform=fig.transFigure, fc='white', ec='none', zorder=10))


def text_w(s, **kw):
    t = bg.text(0, 0, s, **kw)
    w = t.get_window_extent(renderer=renderer).width
    t.remove()
    return w


def space_w(**kw):
    return text_w('a a', **kw) - text_w('aa', **kw)


def runs(x, yb, parts):
    for s, kw, sp in parts:
        if sp:
            x += space_w(**kw)
        t = bg.text(x, yb, s, va='baseline', ha='left', **kw)
        x += t.get_window_extent(renderer=renderer).width


def justify(x0, x1, yb, line, kw, full=True):
    kw = dict(kw)
    words = line.split()
    while True:
        ws = [text_w(w, **kw) for w in words]
        nat = space_w(**kw)
        if not full or len(words) < 2:
            sp = nat
            break
        sp = (x1 - x0 - sum(ws)) / (len(words) - 1)
        if sp >= 0.75 * nat:
            break
        kw['fontsize'] -= 0.2
    x = x0
    for w, wd in zip(words, ws):
        bg.text(x, yb, w, va='baseline', ha='left', **kw)
        x += wd + sp


# page header
hd = dict(family='Open Sans', fontsize=9.1, color='#333333')
runs(95, 69, [('Albaum', hd, False), ('et al.', dict(hd, style='italic'), True),
              ('Proteome Science', dict(hd, style='italic'), True), ('2011,', hd, True),
              ('9', dict(hd, weight='bold'), True), (':30', hd, False)])
bg.text(95, 84, 'http://www.proteomesci.com/content/9/1/30', va='baseline', **hd)
bg.text(905, 69, 'Page 15 of 19', ha='right', va='baseline', **hd)

# captions
cap = dict(family='Open Sans', fontsize=8.25, color='#3c3c3c')
capb = dict(family='Open Sans', fontsize=8.25, color='#111111', weight='bold')
cap9 = ['index, Davies and Bouldin formulated a general framework for the',
        'evaluation of the outcomes of cluster algorithms. In contrast to other',
        'indexes, an optimal cluster solution is indicated by the minimal',
        'calculated index value. For instance, for the two cluster algorithms',
        'K-means and Neuralgas a local minimum can be located around the',
        '30-cluster solution. A general interpretation of this index, however,',
        'seems to be difficult due to a strong tendency towards constantly',
        'decreasing index values with regard to large cluster numbers.']
runs(105, 904, [('Figure 9 Davies and Bouldin', capb, False),
                ('. Instead of simply proposing a cluster', cap, False)])
for i, line in enumerate(cap9):
    bg.text(105, 904 + 16.5 * (i + 1), line, va='baseline', **cap)

cap10 = ['and Lai showed both from a biological as well as from a',
         'computational point of view meaningful cluster numbers: for the',
         'data of experiment A, there were found cluster numbers between 3',
         'for Ward/Euclidean–here a second local maximum was found at 23',
         'clusters–and 43 for Average/Uncentered Pearson as the true',
         'clustering of the data; for experiment B, between 14 (Average/',
         'Pearson correlation) and 70 (Complete/Euclidean), with a protruding',
         '43-cluster solution applying Ward/Euclidean; and for experiment C,',
         'e. g. at seven clusters for Average/Uncentered Pearson, 22 for Ward/',
         'Euclidean and 38 for Average/Euclidean.']
runs(518, 906, [('Figure 10 Krzanowski and Lai', capb, False),
                ('. The cluster index of Krzanowski', cap, False)])
for i, line in enumerate(cap10):
    bg.text(518, 906 + 16.5 * (i + 1), line, va='baseline', **cap)

# body text
body = dict(family='Liberation Serif', fontsize=12.6, color='#1a1a1a')
left_lines = [('including for example Cg1806, an enzyme involved in', 1105, True),
              ('sulfur metabolism.', 1125, False),
              ('A typical visualization of the results of a hierarchical', 1165, True),
              ('cluster analysis is a heatmap as exemplary shown in', 1185, True),
              ('Figure 11[51]. Calculated abundance ratios are color', 1205, True),
              ('coded. An attached dendrogram reveals the', 1226, True)]
for line, yb, full in left_lines:
    justify(95, 488, yb, line, body, full)
bg.text(95, 1145, 'Visualization of cluster results', va='baseline', family='Open Sans',
        fontsize=9.8, weight='bold', style='italic', color='#1a1a1a')

right_lines = [('hierarchical relations between the proteins. In many', 1126, True),
               ('cases, one is not interested in determining the relation-', 1146, True),
               ('ships between all proteins, but instead of representa-', 1166, True),
               ('tive groups of proteins that show a very similar pattern', 1186, True),
               ('of regulation. Here, a simple XY-plot may provide an', 1206, True),
               ('adequate visualization.', 1226, False)]
for line, yb, full in right_lines:
    justify(511, 905, yb, line, body, full)

fig.savefig('out.png', dpi=100)
